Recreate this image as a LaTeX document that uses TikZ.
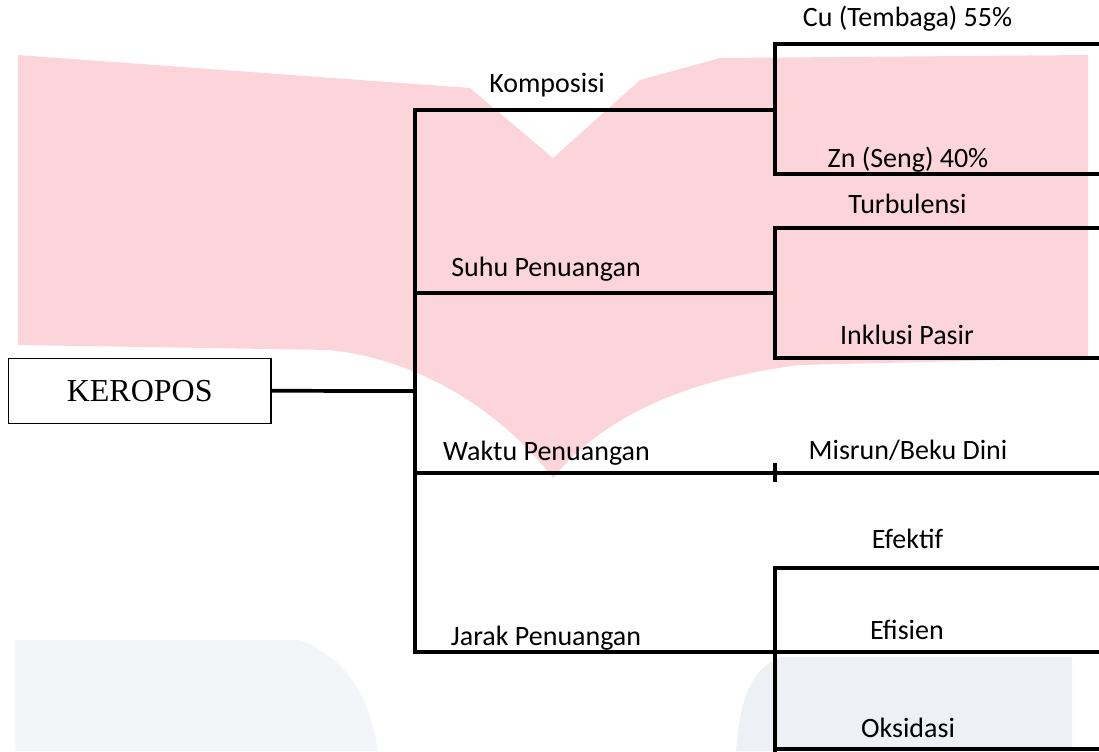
\documentclass[tikz,border=0pt]{standalone}
\usepackage{fontspec}
\setmainfont{Carlito}
\newfontfamily\boxfont{Liberation Serif}

\definecolor{bookpink}{RGB}{252,213,218}
\definecolor{markgrey}{RGB}{243,245,248}
\definecolor{markblue}{RGB}{237,240,244}

\tikzset{every picture/.style={line width=0.75pt}}
\tikzset{
	branch/.style={line width=2.8pt},
	causetext/.style={anchor=base, inner sep=0pt, font=\fontsize{21}{25}\selectfont},
	rootbox/.style={draw, line width=1pt, minimum width=197pt, minimum height=48.75pt, inner sep=0pt, font=\boxfont\fontsize{24}{28}\selectfont},
}

\begin{document}
\begin{tikzpicture}[x=0.75pt,y=0.75pt,yscale=-1,xscale=1]
	\useasboundingbox (0,0) rectangle (1099,751);

	%watermark
	\fill [bookpink] (18,55) -- (470,88) -- (553,158) -- (640,80) -- (720,58) -- (1088,55) -- (1088,358) -- (800,365) .. controls (680,380) and (600,420) .. (553,478) .. controls (500,410) and (420,360) .. (330,350) -- (18,345) -- cycle;
	\fill [markgrey] (15,640) -- (300,640) .. controls (350,660) and (370,700) .. (378,751) -- (15,751) -- cycle;
	\fill [markblue] (736,751) .. controls (740,700) and (750,670) .. (780,657) -- (1072,657) -- (1072,751) -- cycle;

	\node [rootbox] (keropos) at (139.7,390.8) {KEROPOS};

	\coordinate (root) at (415,391);
	\coordinate (kom) at (415,110);
	\coordinate (kom fork) at (775,110);
	\coordinate (suh) at (415,293);
	\coordinate (suh fork) at (775,293);
	\coordinate (wak) at (415,473);
	\coordinate (wak end) at (1100,473);
	\coordinate (jar) at (415,652);
	\coordinate (jar end) at (1100,652);

	\coordinate (cu a) at (775,44);   \coordinate (cu b) at (1100,44);
	\coordinate (zn a) at (775,174);  \coordinate (zn b) at (1100,174);
	\coordinate (tur a) at (775,228); \coordinate (tur b) at (1100,228);
	\coordinate (ink a) at (775,358); \coordinate (ink b) at (1100,358);
	\coordinate (tick a) at (775,463); \coordinate (tick b) at (775,482);
	\coordinate (efk a) at (775,568); \coordinate (efk b) at (1100,568);
	\coordinate (oks a) at (775,749); \coordinate (oks b) at (1100,749);
	\coordinate (oks c) at (775,752);

	\draw [branch] (keropos.east) -- (root);
	\draw [branch] (kom fork) -- (kom) -- (jar) -- (jar end);
	\draw [branch] (suh) -- (suh fork);
	\draw [branch] (wak) -- (wak end);
	\draw [branch] (tick a) -- (tick b);

	\draw [branch] (cu b) -- (cu a) -- (zn a) -- (zn b);
	\draw [branch] (tur b) -- (tur a) -- (ink a) -- (ink b);
	\draw [branch] (efk b) -- (efk a) -- (oks c);
	\draw [branch] (oks a) -- (oks b);

	\node [causetext] (komposisi) at (547,92) {Komposisi};
	\node [causetext] (suhu) at (546,276) {Suhu Penuangan};
	\node [causetext] (waktu) at (546.5,460) {Waktu Penuangan};
	\node [causetext] (jarak) at (546,645) {Jarak Penuangan};

	\node [causetext] (cu) at (907.5,26) {Cu (Tembaga) 55\%};
	\node [causetext] (zn) at (908,167) {Zn (Seng) 40\%};
	\node [causetext] (turbulensi) at (907.5,213) {Turbulensi};
	\node [causetext] (inklusi) at (907,344) {Inklusi Pasir};
	\node [causetext] (misrun) at (908,459) {Misrun/Beku Dini};
	\node [causetext] (efektif) at (907.5,548) {Efektif};
	\node [causetext] (efisien) at (907,639) {Efisien};
	\node [causetext] (oksidasi) at (908,737.5) {Oksidasi};

\end{tikzpicture}
\end{document}
